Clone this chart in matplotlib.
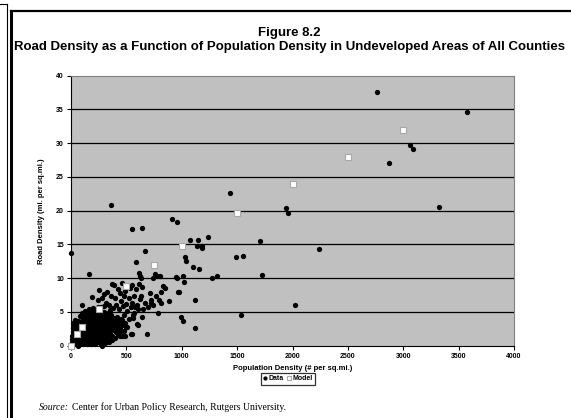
import matplotlib
matplotlib.use("Agg")
import matplotlib.pyplot as plt
from matplotlib.lines import Line2D

# ---------------- data ----------------
data_x = [
    5, 8, 10, 12, 15, 18, 20, 22, 25, 28, 30, 33, 35, 38, 40, 42, 45, 48, 50, 52, 55, 58, 60, 62,
    65, 68, 70, 72, 75, 78, 80, 82, 85, 88, 90, 92, 95, 98, 100, 102, 105, 108, 110, 112, 115, 118,
    120, 123, 125, 128, 130, 133, 135, 138, 140, 143, 145, 148, 150, 152, 155, 158, 160, 162, 165,
    168, 170, 172, 175, 178, 180, 182, 185, 188, 190, 192, 195, 198,
    200, 203, 205, 208, 210, 213, 215, 218, 220, 223, 225, 228, 230, 233, 235, 238, 240, 243, 245,
    248, 250, 253, 255, 258, 260, 263, 265, 268, 270, 273, 275, 278,
    280, 283, 285, 288, 290, 293, 295, 298, 300, 303, 305, 308, 310, 313, 315, 318, 320, 325, 328,
    330, 333, 335, 340, 343, 345, 350, 353, 358,
    362, 368, 372, 378, 385, 390, 395, 400, 408, 415, 420, 428, 435, 445, 450,
    15, 25, 35, 45, 55, 65, 75, 85, 95, 105, 115, 125, 135, 145, 155, 165, 175, 185, 195, 205,
    215, 225, 235, 245, 255, 265, 275, 285, 295, 305, 315, 325, 335, 345, 355, 365, 375, 385, 395,
    410, 425, 440, 460, 475, 490, 510, 140, 180, 220, 250, 310, 60, 110, 130, 160, 200, 240, 270,
    300, 350, 20, 40, 80, 100,
    190, 240, 255, 280, 300, 320, 327, 345, 360, 372, 380, 390, 400, 410, 420, 430, 440, 450, 460,
    470, 480, 490, 500, 510, 520, 530, 540, 548, 555, 565, 570, 578, 587, 595, 608, 611, 620, 635,
    641, 653, 665, 698, 713, 720, 720, 743, 768, 789, 797, 810, 810, 834, 846, 888, 973,
    611, 620, 629, 761, 780, 804, 743, 954, 1014, 1020,
    405, 459, 480, 520, 560, 563, 599, 603, 640,
    366, 339, 291, 276, 417, 441, 462, 492, 501, 546, 548, 688,
    0, 360, 165, 96, 550, 640, 672, 591,
    909, 954, 1030, 1035, 1078, 1150, 1141, 1180, 1186, 1240, 1432, 1492, 1553, 1102, 1156, 1276,
    1321, 946, 964, 997, 1009, 1120, 1123, 1537, 1724, 1703, 2024, 1943, 1961, 2760, 3580, 3060,
    3084, 2868, 3324, 2237,
]
data_y = [
    0.2, 0.6, 1.0, 1.4, 0.3, 1.8, 0.9, 2.1, 0.5, 1.3, 1.7, 0.2, 2.4, 1.0, 0.6, 1.9, 1.4, 2.6, 0.3, 1.1, 2.2, 0.8, 1.6, 2.9,
    0.4, 2.0, 1.2, 3.1, 0.7, 2.5, 1.5, 0.2, 3.3, 1.9, 1.0, 2.7, 0.5, 3.6, 1.4, 2.2, 0.9, 3.0, 1.7, 0.3, 3.9, 2.4,
    1.1, 3.4, 0.6, 2.0, 4.1, 1.5, 2.8, 0.4, 3.7, 2.3, 1.0, 4.4, 1.8, 3.1, 0.7, 2.6, 4.0, 1.3, 3.5,
    2.1, 0.5, 4.6, 2.9, 1.6, 3.8, 0.9, 2.4, 4.3, 1.2, 3.2, 2.0, 4.8,
    0.8, 3.6, 1.7, 2.8, 4.5, 1.1, 3.3, 2.2, 5.0, 0.6, 3.9, 1.9, 2.9, 4.2, 1.4, 3.5, 2.5, 4.7, 0.9,
    3.1, 2.0, 4.0, 1.5, 3.7, 2.7, 0.4, 4.4, 2.3, 3.3, 1.2, 4.9, 2.8,
    1.8, 3.9, 3.0, 0.7, 4.3, 2.1, 3.5, 1.4, 4.6, 2.6, 3.2, 1.0, 4.0, 2.4, 3.7, 1.6, 2.9, 4.2, 0.8,
    3.4, 2.0, 4.8, 1.3, 3.1, 2.5, 3.8, 1.9, 4.4,
    2.8, 3.5, 1.5, 4.1, 2.3, 3.0, 1.1, 3.6, 2.0, 4.3, 2.7, 1.6, 3.3, 2.1, 4.0,
    2.6, 2.9, 0.9, 3.2, 1.8, 3.6, 2.2, 0.6, 4.2, 2.6, 1.4, 4.5, 3.2, 2.0, 4.8, 1.2, 3.6, 5.1, 2.6, 4.9,
    0.5, 2.4, 5.2, 3.6, 2.5, 1.0, 3.6, 2.4, 5.0, 1.6, 4.4, 2.7, 3.8, 1.7, 3.2, 4.6, 2.5, 3.8, 2.9,
    3.3, 3.8, 2.6, 3.0, 2.2, 3.4, 2.7, 0.2, 0.3, 0.2, 0.6, 0.4, 0.0, 0.6, 5.2, 5.4, 5.6, 5.8, 5.7,
    5.9, 5.3, 3.3, 3.8, 4.4, 4.8,
    7.2, 6.8, 8.3, 7.0, 7.6, 6.3, 8.0, 6.0, 7.4, 9.1, 5.6, 9.0, 7.1, 6.1, 8.4, 5.4, 7.8, 6.6, 9.3,
    5.9, 7.3, 8.1, 6.2, 5.1, 7.0, 8.6, 5.7, 6.3, 9.0, 4.8, 7.4, 5.8, 8.4, 6.0, 5.5, 9.2, 6.9, 7.4,
    8.7, 5.4, 6.3, 5.8, 7.8, 6.8, 6.4, 6.0, 7.3, 4.8, 6.7, 6.3, 7.9, 8.9, 8.6, 6.6, 7.9,
    10.8, 10.4, 10.1, 10.6, 10.4, 10.4, 10.0, 10.1, 10.3, 9.4,
    3.9, 3.8, 4.5, 4.0, 4.5, 4.1, 3.2, 3.1, 4.2,
    0.8, 0.6, 1.2, 0.0, 2.2, 1.5, 1.4, 1.5, 2.8, 1.7, 1.8, 1.7,
    13.8, 20.9, 10.6, 6.1, 17.3, 17.4, 14.0, 12.4,
    18.7, 18.3, 13.1, 12.5, 15.6, 15.6, 14.7, 14.5, 14.8, 16.1, 22.6, 13.2, 13.3, 11.7, 11.3, 10.0,
    10.4, 10.2, 7.9, 4.3, 3.6, 6.8, 2.6, 4.5, 10.5, 15.5, 6.1, 20.4, 19.7, 37.6, 34.6, 29.8,
    29.1, 27.0, 20.5, 14.3,
]
model_x = [0, 50, 100, 250, 500, 750, 1000, 1500, 2000, 2500, 3000]
model_y = [0, 1.7, 2.8, 5.5, 8.9, 12.0, 14.7, 19.6, 24.0, 28.0, 31.9]

x_ticks = [0, 500, 1000, 1500, 2000, 2500, 3000, 3500, 4000]
y_ticks = [0, 5, 10, 15, 20, 25, 30, 35, 40]

title_1 = "Figure 8.2"
title_2 = "Road Density as a Function of Population Density in Undeveloped Areas of All Counties"
x_label = "Population Density (# per sq.mi.)"
y_label = "Road Density (mi. per sq.mi.)"

# ---------------- figure ----------------
W, H = 571, 418
fig = plt.figure(figsize=(W / 100, H / 100), dpi=100)
fig.patch.set_facecolor("white")
plt.rcParams["font.family"] = ["Liberation Sans", "DejaVu Sans"]

def fx(px):
    return px / W

def fy(py):
    return 1 - py / H

ax = fig.add_axes([fx(71), fy(345.7), fx(514) - fx(71), fy(75.7) - fy(345.7)])
ax.set_facecolor("#C0C0C0")
ax.set_xlim(0, 4000)
ax.set_ylim(0, 40)

for yv in y_ticks[1:-1]:
    ax.axhline(yv, color="black", lw=0.9, zorder=1)

ax.plot(data_x, data_y, "o", color="black", markersize=3.8, markeredgewidth=0, zorder=3,
        label="Data", clip_on=False)
ax.plot(model_x, model_y, "s", markerfacecolor="white", markeredgecolor="#A8A8A8",
        markersize=4.2, markeredgewidth=0.8, zorder=4, label="Model", clip_on=False)

ax.set_xticks(x_ticks)
ax.set_yticks(y_ticks)
ax.tick_params(direction="out", length=3, width=0.8, labelsize=5, pad=2)
for lab in ax.get_xticklabels() + ax.get_yticklabels():
    lab.set_fontweight("bold")
ax.spines["left"].set_color("black")
ax.spines["bottom"].set_color("black")
ax.spines["top"].set_color("#808080")
ax.spines["right"].set_color("#808080")
for s in ax.spines.values():
    s.set_linewidth(0.8)

ax.set_xlabel(x_label, fontsize=5.5, fontweight="bold", labelpad=4)
ax.set_ylabel(y_label, fontsize=5.5, fontweight="bold", labelpad=8)

leg = fig.legend(loc="center", bbox_to_anchor=(fx(288), fy(379)), ncol=2,
                 frameon=True, fancybox=False, edgecolor="black", handlelength=0.6,
                 handletextpad=0.2, columnspacing=0.4, borderpad=0.35, markerscale=0.8,
                 prop={"weight": "bold", "size": 5})
leg.get_frame().set_linewidth(0.9)

fig.text(fx(289), fy(33), title_1, ha="center", va="center", fontsize=9.5, fontweight="bold")
fig.text(fx(289), fy(47), title_2, ha="center", va="center", fontsize=9.5, fontweight="bold")

fig.text(fx(39), fy(407), "Source:", ha="left", va="center", fontsize=7, style="italic",
         family=["Liberation Serif", "DejaVu Serif"])
fig.text(fx(72), fy(407), "Center for Urban Policy Research, Rutgers University.",
         ha="left", va="center", fontsize=7, family=["Liberation Serif", "DejaVu Serif"])

# frame lines
fig.add_artist(Line2D([fx(0), fx(7)], [fy(4), fy(4)], color="black", lw=0.8))
fig.add_artist(Line2D([fx(7), fx(7)], [fy(4), fy(418)], color="black", lw=0.8))
fig.add_artist(Line2D([fx(10.5), fx(10.5)], [fy(10.5), fy(418)], color="black", lw=2.2))
fig.add_artist(Line2D([fx(10.5), fx(571)], [fy(11), fy(11)], color="black", lw=1.6))

fig.savefig("out.png", dpi=100)
